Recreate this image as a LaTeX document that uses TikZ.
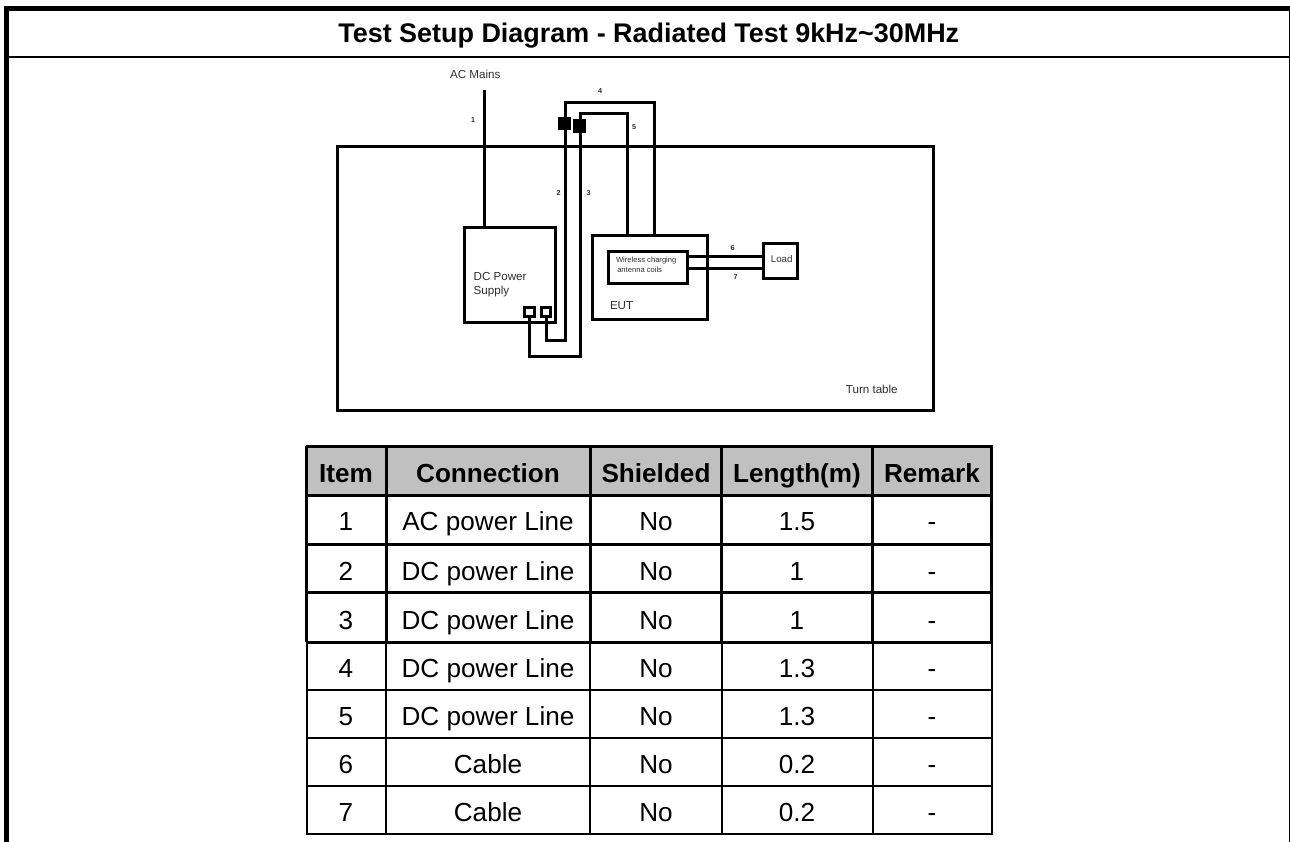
\documentclass[tikz,border=0pt]{standalone}
\usepackage{fontspec}
\setmainfont{Liberation Sans}
\definecolor{headgray}{HTML}{C0C0C0}
\definecolor{labelgray}{HTML}{2E2E2E}
\tikzset{
  px/.style={line width=#1*0.75pt},
  wire/.style={px=3, line join=miter},
  label/.style={inner sep=0, outer sep=0, text=labelgray},
  small/.style={label, font=\fontsize{8.7}{10.2}\selectfont},
  tiny/.style={label, font=\fontsize{5.4}{6}\selectfont\bfseries},
  cell/.style={inner sep=0, outer sep=0, anchor=base, font=\fontsize{19.6}{22}\selectfont},
  headcell/.style={cell, font=\fontsize{19.6}{22}\selectfont\bfseries},
}
\newcommand{\boxnode}[6]{\node[draw, wire, inner sep=0, outer sep=0, minimum width=#4*0.75pt, minimum height=#5*0.75pt, #6] (#1) at (#2,#3) {};}
\begin{document}
\begin{tikzpicture}[x=0.75pt,y=-0.75pt]
  \useasboundingbox (0,0) rectangle (1290,842);

  % Frame
  % =====
  \fill (4,6) rectangle (8.5,842);
  \fill (4,6) rectangle (1290,11);
  \fill (1288.5,6) rectangle (1290,842);
  \fill (8.5,56) rectangle (1290,58.5);
  \node[inner sep=0, outer sep=0, anchor=base, font=\fontsize{20.2}{23}\selectfont\bfseries] (title) at (648.8,42.7) {Test Setup Diagram - Radiated Test 9kHz\textasciitilde 30MHz};

  % Setup
  % =====
  \boxnode{turntable}{635}{278.5}{596}{263}{}
  \boxnode{supply}{509.5}{274.5}{91}{95}{}
  \boxnode{eut}{650}{277}{115.5}{84}{}
  \boxnode{coils}{648}{267.3}{79.5}{32}{}
  \boxnode{loadbox}{780.5}{261}{33.5}{34.5}{}
  \boxnode{plus}{529.5}{312.2}{10}{9}{fill=white}
  \boxnode{minus}{545.7}{311.5}{9}{9}{fill=white}
  \boxnode{clampa}{564.5}{123.3}{10}{10.5}{fill=black}
  \boxnode{clampb}{579.3}{126}{9.7}{11}{fill=black}

  \coordinate (mainsend) at (484.7,90);
  \coordinate (twobot) at (565,340);
  \coordinate (threebot) at (580.3,356);
  \coordinate (fourtop) at (654.3,102.7);
  \coordinate (fivetop) at (627.3,114);
  \coordinate (sixend) at (loadbox.west |- 0,256.7);
  \coordinate (sevenend) at (loadbox.west |- 0,268);

  % Cables
  % ------
  \draw[wire] (mainsend) -- (mainsend |- supply.north);
  \draw[wire] (minus.-75) |- (twobot) -- (twobot |- fourtop) -- (fourtop) -- (fourtop |- eut.north);
  \draw[wire] (plus.south) |- (threebot) -- (threebot |- fivetop) -- (fivetop) -- (fivetop |- eut.north);
  \draw[wire] (coils.east |- sixend) -- (sixend);
  \draw[wire] (coils.east |- sevenend) -- (sevenend);

  % Labels
  % ------
  \node[small] (mains) at (475.3,74) {AC Mains};
  \node[small, align=left, anchor=west] (supplytext) at (473.7,284.5) {DC Power\\Supply};
  \node[small, anchor=west] (euttext) at (610,305.7) {EUT};
  \node[label, align=left, anchor=west, font=\fontsize{5.7}{7.2}\selectfont] (coiltext) at (616,264.7) {Wireless charging\\ \,antenna coils};
  \node[label, font=\fontsize{7.3}{9}\selectfont] (loadtext) at (781.7,259) {Load};
  \node[small, anchor=east] (tabletext) at (897.7,389) {Turn table};

  \foreach \num/\px/\py in {1/473/120.5, 2/558.7/192.7, 3/588.7/192.7, 4/600/91, 5/634/126.7, 6/732.7/248, 7/735.7/277.3}
  \node[tiny] (wire\num) at (\px,\py) {\num};

  % Table
  % =====
  \fill[headgray] (306.7,446) rectangle (991.7,495);

  \foreach \y/\w in {446/3, 495/3, 544/3, 592.7/3, 642.3/2.5, 690/2.2, 738/2.2, 785.7/2.2, 833.7/2.2}
  \draw[px=\w] (305.5,\y) -- (993,\y);

  \foreach \x in {306.7, 386, 590, 721.7, 872.7, 991.7}{
    \draw[px=3] (\x,446) -- (\x,642.3);
    \draw[px=2.2] (\x,642.3) -- (\x,833.7);
  }

  \foreach \name/\x/\txt in {item/346/Item, conn/488/Connection, shld/656/Shielded, lngt/797/Length(m), rmrk/932/Remark}
  \node[headcell] (\name0) at (\x,482) {\txt};

  \foreach \num/\y/\conn/\len in {1/530.7/AC power Line/1.5, 2/580/DC power Line/1, 3/629.3/DC power Line/1,
    4/677.7/DC power Line/1.3, 5/725.7/DC power Line/1.3, 6/773.3/Cable/0.2, 7/821.7/Cable/0.2}{
    \node[cell] (item\num) at (346,\y) {\num};
    \node[cell] (conn\num) at (488,\y) {\conn};
    \node[cell] (shld\num) at (656,\y) {No};
    \node[cell] (lngt\num) at (797,\y) {\len};
    \node[cell] (rmrk\num) at (932,\y) {-};
  }
\end{tikzpicture}
\end{document}
